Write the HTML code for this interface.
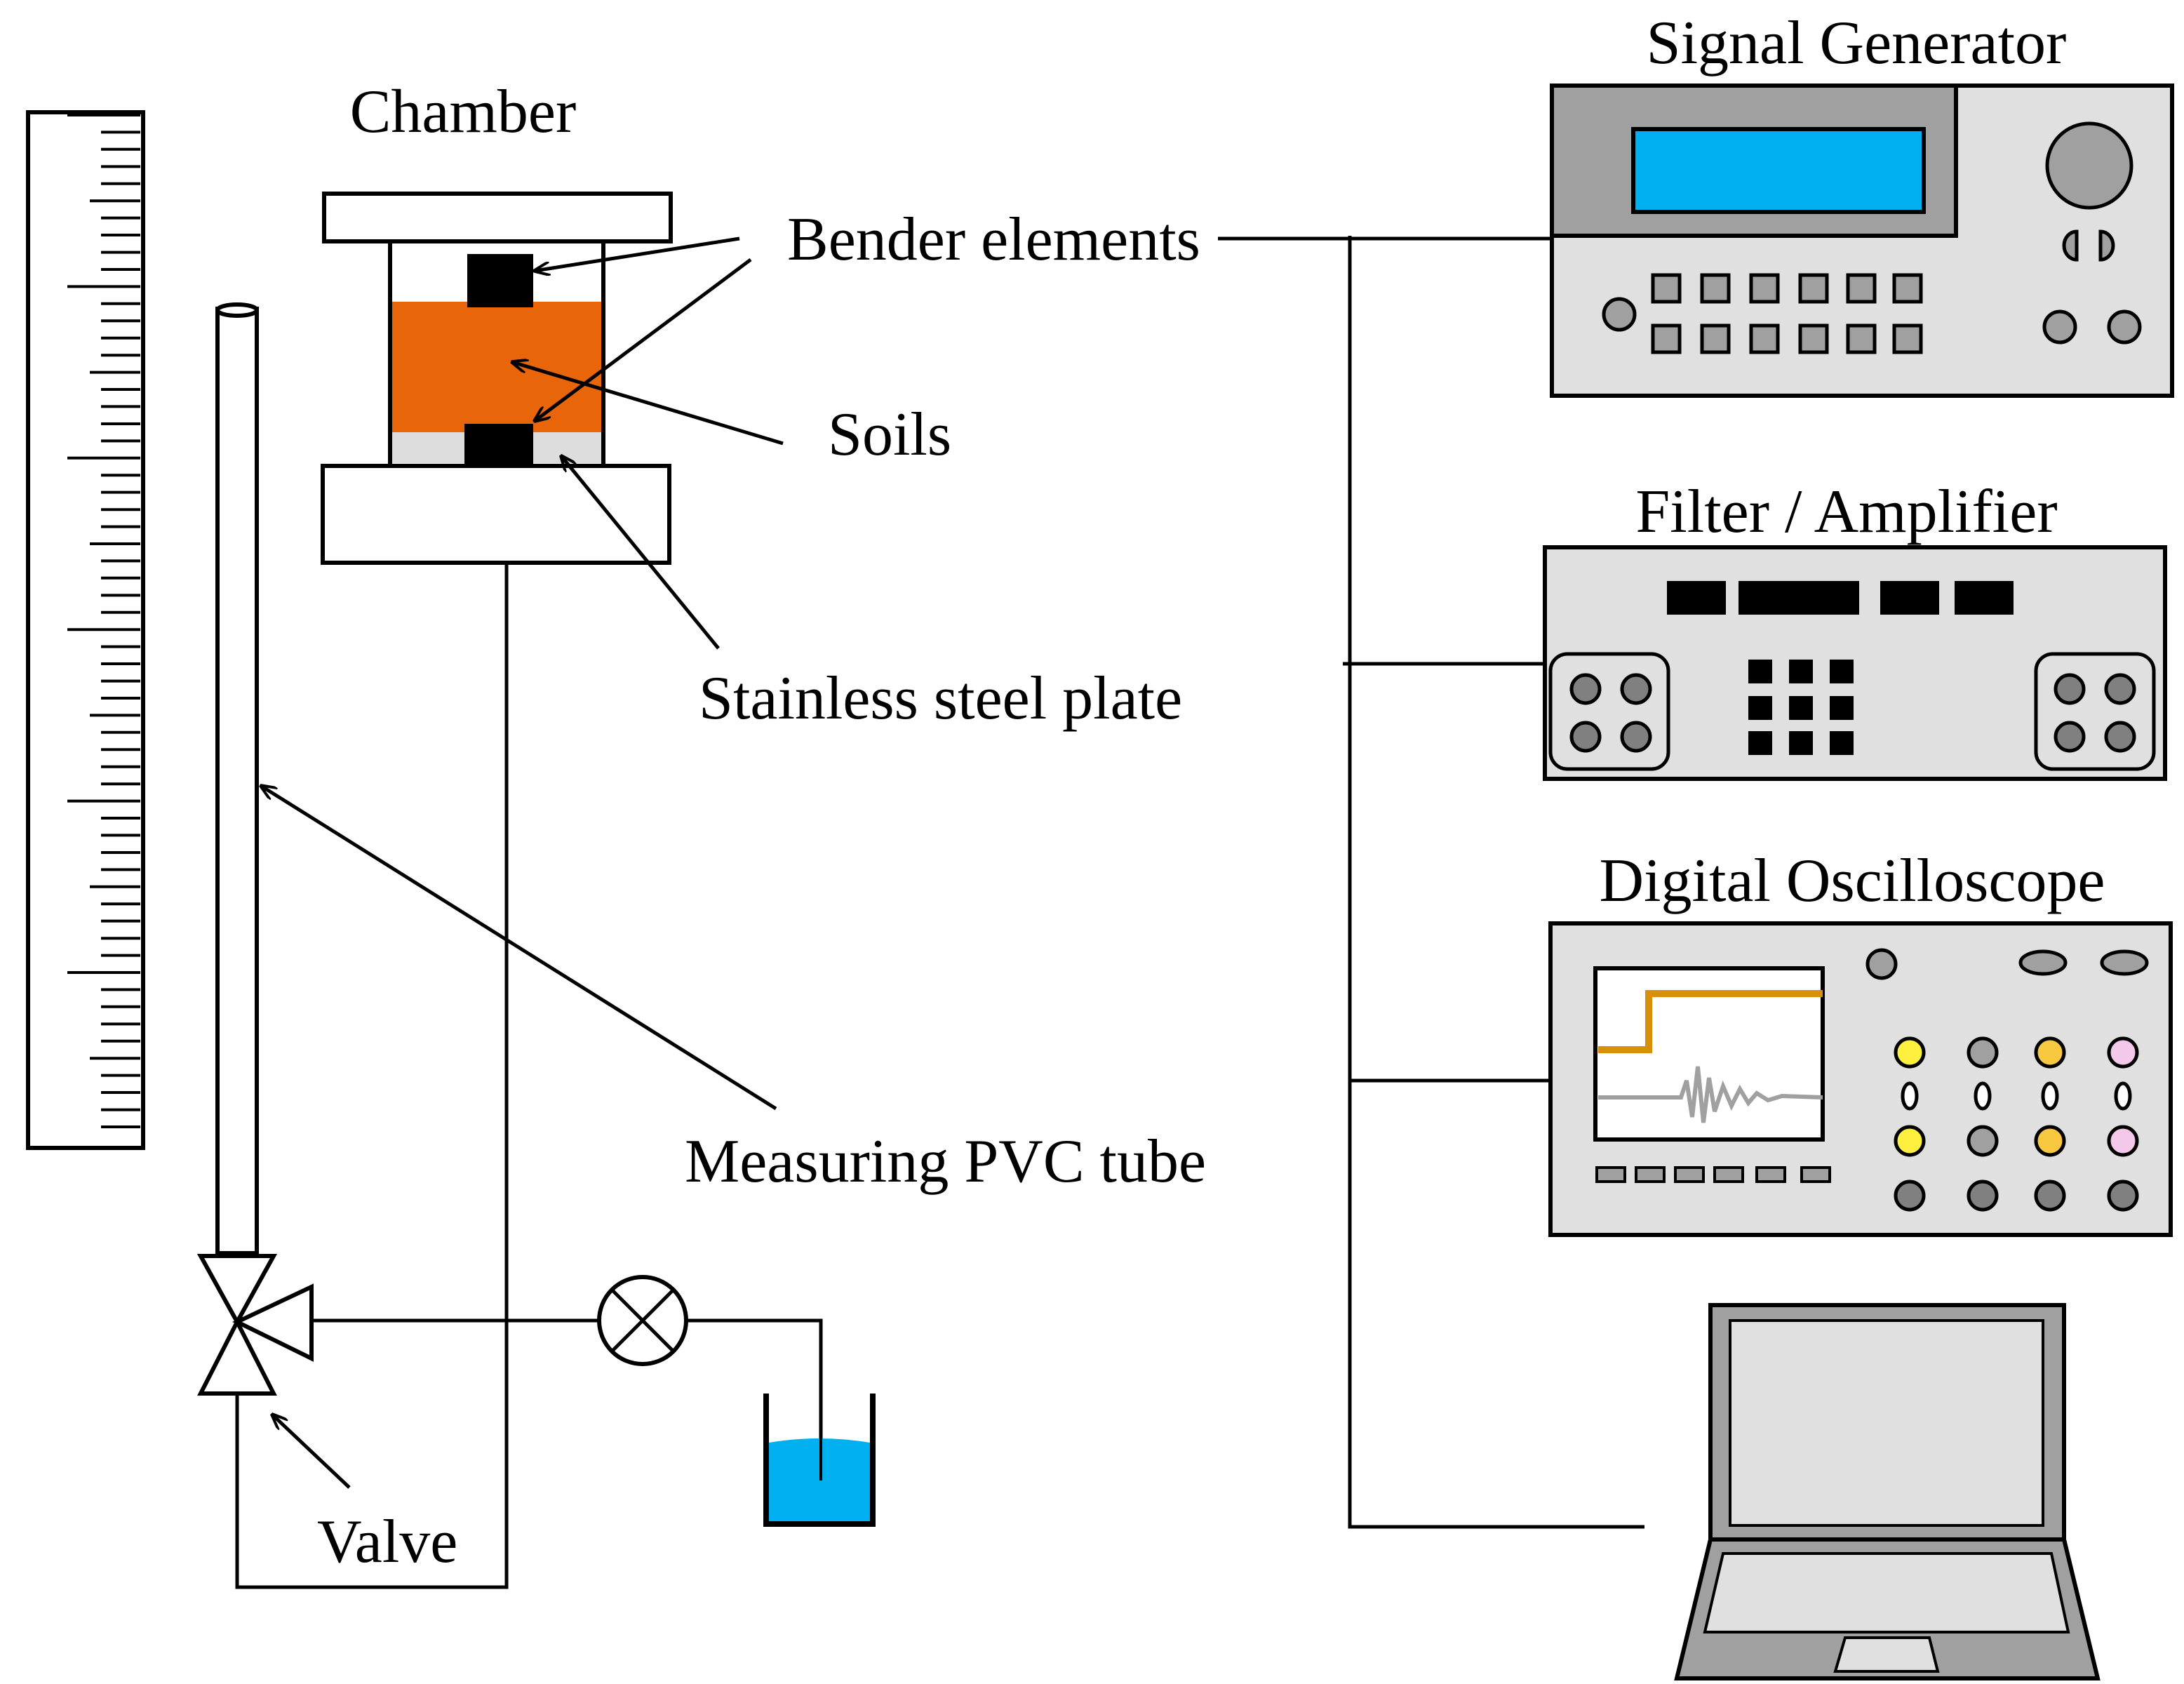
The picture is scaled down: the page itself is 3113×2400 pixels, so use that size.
<!DOCTYPE html>
<html><head><meta charset="utf-8"><style>
html,body{margin:0;padding:0;background:#fff;}
svg{display:block;}
text{font-family:"Liberation Serif",serif;fill:#000;}
</style></head><body>
<svg width="3113" height="2400" viewBox="0 0 1556.5 1200" xmlns="http://www.w3.org/2000/svg">
<defs>
<marker id="ah" markerWidth="12" markerHeight="10" refX="11" refY="5" orient="auto" markerUnits="userSpaceOnUse">
<path d="M0,0 L12,5 L0,10" fill="none" stroke="#000" stroke-width="2"/>
</marker>
</defs>
<rect width="1556.5" height="1200" fill="#fff"/>
<rect x="20" y="80" width="82" height="738" fill="#fff" stroke="#000" stroke-width="3"/>
<rect x="155" y="220" width="28" height="673" fill="#fff" stroke="#000" stroke-width="3"/>
<ellipse cx="169" cy="221" rx="14" ry="4" fill="#fff" stroke="#000" stroke-width="3"/>
<g fill="#fff" stroke="#000" stroke-width="3">
<polygon points="143,895 195,895 169,942"/>
<polygon points="143,993 195,993 169,942"/>
<polygon points="222,917 222,968 169,942"/>
</g>
<g fill="none" stroke="#000" stroke-width="2.5">
<polyline points="222,941 427,941"/>
<circle cx="458" cy="941" r="31" stroke-width="3"/>
<line x1="436" y1="919" x2="480" y2="963"/><line x1="480" y1="919" x2="436" y2="963"/>
<polyline points="489,941 585,941 585,1055"/>
<polyline points="169,993 169,1131 361,1131 361,400"/>
</g>
<path d="M548,1028 Q584,1022 620,1028 L620,1085 L548,1085 Z" fill="#00B0F0"/>
<polyline points="546,993 546,1086 622,1086 622,993" fill="none" stroke="#000" stroke-width="4"/>
<line x1="585" y1="1000" x2="585" y2="1055" stroke="#000" stroke-width="2"/>
<rect x="231" y="138" width="247" height="34" fill="#fff" stroke="#000" stroke-width="3"/>
<rect x="279" y="215" width="150" height="93" fill="#E8650A"/>
<rect x="279" y="308" width="150" height="22" fill="#ddd"/>
<rect x="278" y="172" width="152" height="160" fill="none" stroke="#000" stroke-width="3"/>
<rect x="333" y="181" width="47" height="38" fill="#000"/>
<rect x="331" y="302" width="49" height="30" fill="#000"/>
<rect x="230" y="332" width="247" height="69" fill="#fff" stroke="#000" stroke-width="3"/>
<g font-size="44">
<text x="330" y="94" text-anchor="middle">Chamber</text>
<text x="561" y="185">Bender elements</text>
<text x="590" y="324">Soils</text>
<text x="498" y="512">Stainless steel plate</text>
<text x="488" y="842">Measuring PVC tube</text>
<text x="226" y="1113">Valve</text>
<text x="1323" y="45" text-anchor="middle">Signal Generator</text>
<text x="1316" y="379" text-anchor="middle">Filter / Amplifier</text>
<text x="1320" y="642" text-anchor="middle">Digital Oscilloscope</text>
</g>
<g stroke="#000" stroke-width="2.5" fill="none">
<line x1="527" y1="170" x2="381" y2="193" marker-end="url(#ah)"/>
<line x1="535" y1="185" x2="381" y2="300" marker-end="url(#ah)"/>
<line x1="558" y1="316" x2="365" y2="258" marker-end="url(#ah)"/>
<line x1="512" y1="462" x2="400" y2="325" marker-end="url(#ah)"/>
<line x1="553" y1="790" x2="186" y2="560" marker-end="url(#ah)"/>
<line x1="249" y1="1060" x2="194" y2="1008" marker-end="url(#ah)"/>
<polyline points="868,170 1107,170"/>
<polyline points="962,168 962,1088 1172,1088"/>
<line x1="957" y1="473" x2="1100" y2="473"/>
<line x1="962" y1="770" x2="1105" y2="770"/>
</g>
<rect x="1106" y="61" width="442" height="221" fill="#e0e0e0" stroke="#000" stroke-width="3"/>
<rect x="1106" y="61" width="288" height="107" fill="#a0a0a0" stroke="#000" stroke-width="3"/>
<rect x="1164" y="92" width="207" height="59" fill="#00B0F0" stroke="#000" stroke-width="3"/>
<g stroke="#000" stroke-width="2.5" fill="#a0a0a0">
<circle cx="1489" cy="118" r="30"/>
<path d="M1480,165 A9,10 0 0 0 1480,185 Z"/><path d="M1497,165 A9,10 0 0 1 1497,185 Z"/>
<circle cx="1154" cy="224" r="11"/><circle cx="1468" cy="233" r="11"/><circle cx="1514" cy="233" r="11"/>
<rect x="1178" y="196" width="19" height="19"/><rect x="1213" y="196" width="19" height="19"/><rect x="1248" y="196" width="19" height="19"/><rect x="1283" y="196" width="19" height="19"/><rect x="1317" y="196" width="19" height="19"/><rect x="1350" y="196" width="19" height="19"/>
<rect x="1178" y="232" width="19" height="19"/><rect x="1213" y="232" width="19" height="19"/><rect x="1248" y="232" width="19" height="19"/><rect x="1283" y="232" width="19" height="19"/><rect x="1317" y="232" width="19" height="19"/><rect x="1350" y="232" width="19" height="19"/>
</g>
<rect x="1101" y="390" width="442" height="165" fill="#e0e0e0" stroke="#000" stroke-width="3"/>
<g fill="#000">
<rect x="1188" y="414" width="42" height="24"/><rect x="1239" y="414" width="86" height="24"/><rect x="1340" y="414" width="42" height="24"/><rect x="1393" y="414" width="42" height="24"/>
<rect x="1246" y="470" width="17" height="17"/><rect x="1275" y="470" width="17" height="17"/><rect x="1304" y="470" width="17" height="17"/>
<rect x="1246" y="496" width="17" height="17"/><rect x="1275" y="496" width="17" height="17"/><rect x="1304" y="496" width="17" height="17"/>
<rect x="1246" y="521" width="17" height="17"/><rect x="1275" y="521" width="17" height="17"/><rect x="1304" y="521" width="17" height="17"/>
</g>
<g stroke="#000" stroke-width="2.5" fill="#e0e0e0">
<rect x="1105" y="466" width="84" height="82" rx="12"/><rect x="1451" y="466" width="84" height="82" rx="12"/>
</g>
<g stroke="#000" stroke-width="2.5" fill="#808080">
<circle cx="1130" cy="491" r="10"/><circle cx="1166" cy="491" r="10"/><circle cx="1130" cy="525" r="10"/><circle cx="1166" cy="525" r="10"/>
<circle cx="1475" cy="491" r="10"/><circle cx="1511" cy="491" r="10"/><circle cx="1475" cy="525" r="10"/><circle cx="1511" cy="525" r="10"/>
</g>
<rect x="1105" y="658" width="442" height="222" fill="#e0e0e0" stroke="#000" stroke-width="3"/>
<rect x="1137" y="690" width="162" height="122" fill="#fff" stroke="#000" stroke-width="3"/>
<polyline points="1139,748 1175,748 1175,708 1299,708" fill="none" stroke="#D8900A" stroke-width="5"/>
<polyline points="1139,782 1198,782 1202,770 1206,796 1210,760 1214,800 1218,768 1222,792 1228,774 1234,788 1240,776 1246,786 1252,779 1260,784 1270,781 1299,782" fill="none" stroke="#a0a0a0" stroke-width="3"/>
<g stroke="#000" stroke-width="2" fill="#a0a0a0">
<rect x="1138" y="832" width="20" height="10"/><rect x="1166" y="832" width="20" height="10"/><rect x="1194" y="832" width="20" height="10"/><rect x="1222" y="832" width="20" height="10"/><rect x="1252" y="832" width="20" height="10"/><rect x="1284" y="832" width="20" height="10"/>
</g>
<g stroke="#000" stroke-width="2.5">
<circle cx="1341" cy="687" r="10" fill="#a0a0a0"/>
<ellipse cx="1456" cy="686" rx="16" ry="8" fill="#a0a0a0"/><ellipse cx="1514" cy="686" rx="16" ry="8" fill="#a0a0a0"/>
<circle cx="1361" cy="750" r="10" fill="#FFF040"/><circle cx="1413" cy="750" r="10" fill="#a0a0a0"/><circle cx="1461" cy="750" r="10" fill="#F8C840"/><circle cx="1513" cy="750" r="10" fill="#F4C8E8"/>
<ellipse cx="1361" cy="781" rx="5" ry="9" fill="#fff"/><ellipse cx="1413" cy="781" rx="5" ry="9" fill="#fff"/><ellipse cx="1461" cy="781" rx="5" ry="9" fill="#fff"/><ellipse cx="1513" cy="781" rx="5" ry="9" fill="#fff"/>
<circle cx="1361" cy="813" r="10" fill="#FFF040"/><circle cx="1413" cy="813" r="10" fill="#a0a0a0"/><circle cx="1461" cy="813" r="10" fill="#F8C840"/><circle cx="1513" cy="813" r="10" fill="#F4C8E8"/>
<circle cx="1361" cy="852" r="10" fill="#808080"/><circle cx="1413" cy="852" r="10" fill="#808080"/><circle cx="1461" cy="852" r="10" fill="#808080"/><circle cx="1513" cy="852" r="10" fill="#808080"/>
</g>
<g stroke="#000" stroke-width="3">
<rect x="1219" y="930" width="252" height="167" fill="#a0a0a0"/>
<rect x="1233" y="941" width="223" height="146" fill="#e0e0e0" stroke-width="2"/>
<polygon points="1219,1097 1471,1097 1495,1196 1195,1196" fill="#a0a0a0"/>
<polygon points="1228,1107 1462,1107 1474,1163 1215,1163" fill="#e0e0e0" stroke-width="2"/>
<polygon points="1315,1167 1375,1167 1381,1191 1308,1191" fill="#e0e0e0" stroke-width="2"/>
</g>
<g stroke="#000" stroke-width="2">
<line x1="48" y1="82" x2="100" y2="82"/><line x1="72" y1="94.2" x2="100" y2="94.2"/><line x1="72" y1="106.4" x2="100" y2="106.4"/><line x1="72" y1="118.7" x2="100" y2="118.7"/><line x1="72" y1="130.9" x2="100" y2="130.9"/><line x1="64" y1="143.1" x2="100" y2="143.1"/><line x1="72" y1="155.3" x2="100" y2="155.3"/><line x1="72" y1="167.5" x2="100" y2="167.5"/><line x1="72" y1="179.8" x2="100" y2="179.8"/><line x1="72" y1="192" x2="100" y2="192"/>
<line x1="48" y1="204.2" x2="100" y2="204.2"/><line x1="72" y1="216.4" x2="100" y2="216.4"/><line x1="72" y1="228.6" x2="100" y2="228.6"/><line x1="72" y1="240.9" x2="100" y2="240.9"/><line x1="72" y1="253.1" x2="100" y2="253.1"/><line x1="64" y1="265.3" x2="100" y2="265.3"/><line x1="72" y1="277.5" x2="100" y2="277.5"/><line x1="72" y1="289.7" x2="100" y2="289.7"/><line x1="72" y1="302" x2="100" y2="302"/><line x1="72" y1="314.2" x2="100" y2="314.2"/>
<line x1="48" y1="326.4" x2="100" y2="326.4"/><line x1="72" y1="338.6" x2="100" y2="338.6"/><line x1="72" y1="350.8" x2="100" y2="350.8"/><line x1="72" y1="363.1" x2="100" y2="363.1"/><line x1="72" y1="375.3" x2="100" y2="375.3"/><line x1="64" y1="387.5" x2="100" y2="387.5"/><line x1="72" y1="399.7" x2="100" y2="399.7"/><line x1="72" y1="411.9" x2="100" y2="411.9"/><line x1="72" y1="424.2" x2="100" y2="424.2"/><line x1="72" y1="436.4" x2="100" y2="436.4"/>
<line x1="48" y1="448.6" x2="100" y2="448.6"/><line x1="72" y1="460.8" x2="100" y2="460.8"/><line x1="72" y1="473" x2="100" y2="473"/><line x1="72" y1="485.3" x2="100" y2="485.3"/><line x1="72" y1="497.5" x2="100" y2="497.5"/><line x1="64" y1="509.7" x2="100" y2="509.7"/><line x1="72" y1="521.9" x2="100" y2="521.9"/><line x1="72" y1="534.1" x2="100" y2="534.1"/><line x1="72" y1="546.4" x2="100" y2="546.4"/><line x1="72" y1="558.6" x2="100" y2="558.6"/>
<line x1="48" y1="570.8" x2="100" y2="570.8"/><line x1="72" y1="583" x2="100" y2="583"/><line x1="72" y1="595.2" x2="100" y2="595.2"/><line x1="72" y1="607.5" x2="100" y2="607.5"/><line x1="72" y1="619.7" x2="100" y2="619.7"/><line x1="64" y1="631.9" x2="100" y2="631.9"/><line x1="72" y1="644.1" x2="100" y2="644.1"/><line x1="72" y1="656.3" x2="100" y2="656.3"/><line x1="72" y1="668.6" x2="100" y2="668.6"/><line x1="72" y1="680.8" x2="100" y2="680.8"/>
<line x1="48" y1="693" x2="100" y2="693"/><line x1="72" y1="705.2" x2="100" y2="705.2"/><line x1="72" y1="717.4" x2="100" y2="717.4"/><line x1="72" y1="729.7" x2="100" y2="729.7"/><line x1="72" y1="741.9" x2="100" y2="741.9"/><line x1="64" y1="754.1" x2="100" y2="754.1"/><line x1="72" y1="766.3" x2="100" y2="766.3"/><line x1="72" y1="778.5" x2="100" y2="778.5"/><line x1="72" y1="790.8" x2="100" y2="790.8"/><line x1="72" y1="803" x2="100" y2="803"/>
</g>
</svg>
</body></html>
